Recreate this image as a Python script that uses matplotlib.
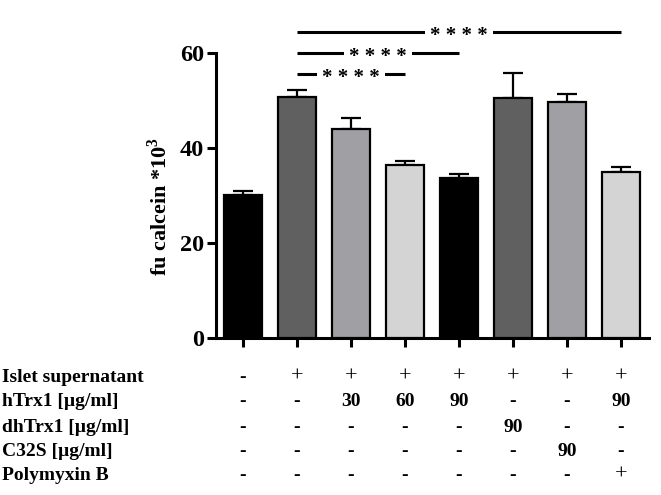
import numpy as np
import matplotlib
matplotlib.use("Agg")
import matplotlib.pyplot as plt
from matplotlib.transforms import blended_transform_factory

plt.rcParams['font.family'] = ['Liberation Serif', 'DejaVu Serif']
plt.rcParams['font.weight'] = 'bold'
plt.rcParams['mathtext.fontset'] = 'custom'
plt.rcParams['mathtext.rm'] = 'Liberation Serif:bold'
plt.rcParams['mathtext.bf'] = 'Liberation Serif:bold'

# bar values (fu calcein *10^3) and SEM
means = [30.1, 50.8, 44.0, 36.5, 33.6, 50.6, 49.6, 35.0]
errs = [0.8, 1.5, 2.4, 0.8, 1.0, 5.2, 1.8, 0.9]
colors = ['#000000', '#606060', '#a0a0a4', '#d4d4d4',
          '#000000', '#606060', '#a0a0a4', '#d4d4d4']

row_labels = ['Islet supernatant', 'hTrx1 [\u00b5g/ml]', 'dhTrx1 [\u00b5g/ml]',
              'C32S [\u00b5g/ml]', 'Polymyxin B']
table = [
    ['-', '+', '+', '+', '+', '+', '+', '+'],
    ['-', '-', '30', '60', '90', '-', '-', '90'],
    ['-', '-', '-', '-', '-', '90', '-', '-'],
    ['-', '-', '-', '-', '-', '-', '90', '-'],
    ['-', '-', '-', '-', '-', '-', '-', '+'],
]

# significance brackets: (from bar, to bar, height)
sig = [(1, 7, 64.4, '* * * *'), (1, 4, 60.0, '* * * *'), (1, 3, 55.6, '* * * *')]

W, H = 661, 495
fig = plt.figure(figsize=(W / 100, H / 100), dpi=100)
ax = fig.add_axes([216 / W, 1 - 338 / H, 433 / W, 285 / H])

x = np.arange(len(means))
ax.bar(x, means, width=0.7, color=colors, edgecolor='black', linewidth=1.6, zorder=3)
ax.errorbar(x, means, yerr=[np.zeros(len(errs)), errs], fmt='none', ecolor='black',
            elinewidth=1.6, capsize=7.5, capthick=1.6, zorder=2)

ax.set_xlim(-0.5, 7.52)
ax.set_ylim(0, 60)
ax.set_yticks([0, 20, 40, 60])
ax.set_xticks(x)
ax.set_xticklabels([])
for s in ['top', 'right']:
    ax.spines[s].set_visible(False)
for s in ['left', 'bottom']:
    ax.spines[s].set_linewidth(2.2)
ax.tick_params(axis='both', width=2.2, length=6.5, direction='out')
ax.tick_params(axis='y', labelsize=17.5, pad=2)
for lab in ax.get_yticklabels():
    lab.set_fontweight('bold')

fig.text(160 / W, 1 - 206 / H, r'fu calcein *10$^{3}$', rotation=90,
         ha='center', va='center', fontsize=16, fontweight='bold')

for a, b, y, txt in sig:
    ax.plot([a, b], [y, y], color='black', lw=2.2, clip_on=False, solid_capstyle='butt')
    ax.text((a + b) / 2, y - 0.9, txt, ha='center', va='center', fontsize=15,
            fontweight='bold', clip_on=False,
            bbox=dict(facecolor='white', edgecolor='none', pad=3.5))

# treatment table under the axis
trans = blended_transform_factory(ax.transData, fig.transFigure)
row_y = [377, 402, 427, 451, 475]
for r, (lab, vals) in enumerate(zip(row_labels, table)):
    yy = 1 - row_y[r] / H
    fig.text(2 / W, yy, lab, ha='left', va='center', fontsize=14, fontweight='bold')
    for i, v in enumerate(vals):
        fw = 'bold' if v != '+' else 'normal'
        fs = 16 if v == '+' else 14
        ax.text(i, yy, v, transform=trans, ha='center', va='center', fontsize=fs,
                fontweight=fw, clip_on=False)

fig.savefig('out.png', dpi=100)
